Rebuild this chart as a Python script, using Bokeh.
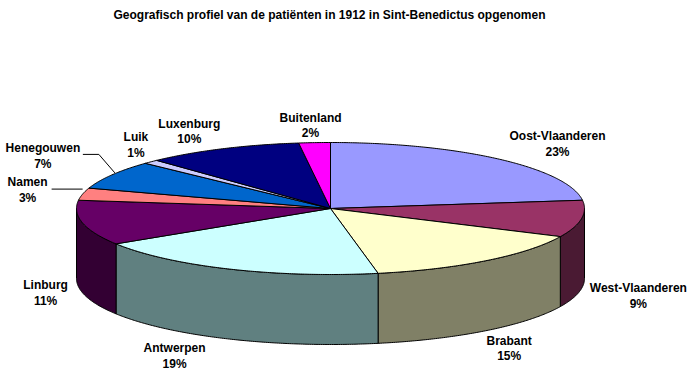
import math
from bokeh.plotting import figure
from bokeh.models import Range1d
from bokeh.core.properties import value
from bokeh.embed import file_html
from bokeh.resources import INLINE

# ---- data ----
title = "Geografisch profiel van de patiënten in 1912 in Sint-Benedictus opgenomen"
regions = ["Oost-Vlaanderen", "West-Vlaanderen", "Brabant", "Antwerpen", "Linburg",
           "Namen", "Henegouwen", "Luik", "Luxenburg", "Buitenland"]
percent = [23, 9, 15, 19, 11, 3, 7, 1, 10, 2]

# ---- styles ----
top_colors = ["#9999FF", "#993366", "#FFFFCC", "#CCFFFF", "#660066",
              "#FF8080", "#0066CC", "#CCCCFF", "#000080", "#FF00FF"]
side_colors = ["#4D4D80", "#4A1A33", "#808066", "#608080", "#330033",
               "#804040", "#003366", "#666680", "#000040", "#800080"]
# label offsets (pixels) from the slice's rim point at its mid angle
label_offsets = [(59, -15), (57, 7), (23, 18), (-55, 17), (-37, 0),
                 (-55, -4), (-69, -19), (-15, -17), (-33, -17), (-4, -17)]

W, H = 693, 377
cx, cy, rx, ry, depth = 330, 208, 254, 66, 70

p = figure(width=W, height=H, x_range=Range1d(0, W), y_range=Range1d(H, 0),
           output_backend="svg", toolbar_location=None, min_border=0,
           x_axis_location=None, y_axis_location=None)
p.grid.visible = False
p.outline_line_color = None
p.background_fill_color = "white"
p.border_fill_color = "white"


def rim(theta_deg, dy=0.0):
    t = math.radians(theta_deg)
    return cx + rx * math.sin(t), cy - ry * math.cos(t) + dy


total = float(sum(percent))
starts, ends = [], []
acc = 0.0
for v in percent:
    starts.append(acc / total * 360.0)
    acc += v
    ends.append(acc / total * 360.0)

# side walls (visible front half: 90..270 degrees)
sxs, sys_, scol = [], [], []
for i in range(len(percent)):
    a0 = max(starts[i], 90.0)
    a1 = min(ends[i], 270.0)
    if a1 <= a0:
        continue
    n = max(4, int((a1 - a0) * 2))
    topp = [rim(a0 + (a1 - a0) * k / n) for k in range(n + 1)]
    bot = [rim(a0 + (a1 - a0) * k / n, depth) for k in range(n, -1, -1)]
    pts = topp + bot
    sxs.append([q[0] for q in pts])
    sys_.append([q[1] for q in pts])
    scol.append(side_colors[i])
p.patches(sxs, sys_, fill_color=scol, line_color="black", line_width=1)

# top face wedges
txs, tys = [], []
for i in range(len(percent)):
    a0, a1 = starts[i], ends[i]
    n = max(4, int((a1 - a0) * 2))
    pts = [(cx, cy)] + [rim(a0 + (a1 - a0) * k / n) for k in range(n + 1)]
    txs.append([q[0] for q in pts])
    tys.append([q[1] for q in pts])
p.patches(txs, tys, fill_color=top_colors, line_color="black", line_width=1)

# labels
lx, ly, lt = [], [], []
anchors = []
for i in range(len(percent)):
    mid = (starts[i] + ends[i]) / 2.0
    lower = math.cos(math.radians(mid)) < 0
    ax, ay = rim(mid, depth if lower else 0)
    anchors.append((ax, ay))
    dx, dy = label_offsets[i]
    lx.append(ax + dx)
    ly.append(ay + dy)
    lt.append(f"{regions[i]}\n{percent[i]}%")
p.text(lx, ly, text=lt, text_align="center", text_baseline="middle",
       text_font=value("Liberation Sans"), text_font_style="bold",
       text_font_size="12px", text_color="black", text_line_height=1.1)

# leader lines for Namen and Henegouwen
i_n = regions.index("Namen")
i_h = regions.index("Henegouwen")
lines_x = [[lx[i_n] + 24, anchors[i_n][0]],
           [lx[i_h] + 40, lx[i_h] + 56, anchors[i_h][0] + 3]]
lines_y = [[ly[i_n] - 1, ly[i_n] - 1],
           [ly[i_h] - 1.5, ly[i_h] - 1.5, anchors[i_h][1] - 2]]
p.multi_line(lines_x, lines_y, line_color="black", line_width=1)

# title
p.text([329], [14], text=[title], text_align="center", text_baseline="middle",
       text_font=value("Liberation Sans"), text_font_style="bold",
       text_font_size="12px", text_color="black")

open("out.html", "w").write(file_html(p, INLINE))
